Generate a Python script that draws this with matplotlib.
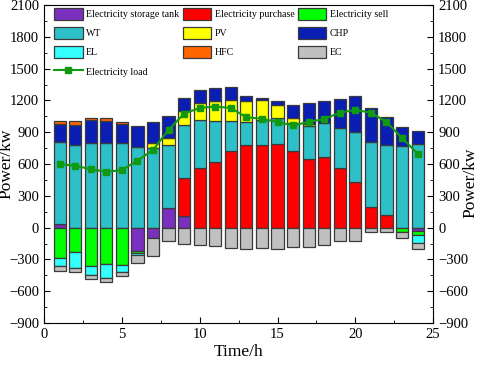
import numpy as np
import matplotlib.pyplot as plt
import matplotlib.patches as mpatches
from matplotlib.lines import Line2D
from matplotlib.ticker import MultipleLocator

plt.rcParams['font.family'] = ['Liberation Serif', 'DejaVu Serif']

hours = np.arange(1, 25)

# positive side (supply)
storage_out = [38, 0, 0, 0, 0, 0, 0, 190, 108, 0, 0, 0, 0, 0, 0, 0, 0, 0, 0, 0, 0, 0, 0, 0]
purchase = [0, 0, 0, 0, 0, 0, 0, 0, 365, 559, 616, 720, 781, 784, 787, 720, 644, 670, 559, 429, 197, 121, 0, 0]
wt = [768, 781, 797, 803, 803, 759, 752, 591, 498, 453, 387, 283, 216, 228, 248, 267, 311, 320, 384, 476, 609, 663, 768, 790]
pv = [0, 0, 0, 0, 0, 0, 45, 66, 127, 166, 190, 200, 196, 188, 120, 51, 25, 0, 0, 0, 0, 0, 0, 0]
chp = [174, 190, 222, 200, 177, 203, 200, 203, 130, 120, 121, 120, 51, 19, 38, 117, 198, 203, 269, 336, 324, 257, 178, 118]
hfc = [26, 35, 19, 35, 20, 0, 0, 0, 0, 0, 0, 0, 0, 0, 0, 0, 0, 0, 0, 0, 0, 0, 0, 0]

# negative side (consumption)
storage_in = [0, 0, 0, 0, 0, -222, -102, 0, 0, 0, 0, 0, 0, 0, 0, 0, 0, 0, 0, 0, 0, 0, 0, -30]
sell = [-290, -229, -359, -346, -352, -16, 0, 0, 0, 0, 0, 0, 0, 0, 0, 0, 0, 0, 0, 0, 0, 0, -44, -43]
el = [-70, -152, -89, -127, -64, -16, 0, 0, 0, 0, 0, 0, 0, 0, 0, 0, 0, 0, 0, 0, 0, 0, 0, -73]
ec = [-45, -38, -38, -41, -41, -79, -168, -130, -155, -168, -174, -193, -200, -193, -200, -187,
      -178, -168, -124, -130, -44, -40, -54, -57]

load = [600, 584, 552, 527, 543, 632, 733, 923, 1076, 1130, 1142, 1130, 1041, 1028, 997, 965,
        997, 1025, 1085, 1111, 1085, 997, 847, 698]

colors = {
    'storage': '#7B2FBE', 'purchase': '#FF0000', 'sell': '#00FF00',
    'wt': '#2EC0C8', 'pv': '#FFFF00', 'chp': '#0A1EB4',
    'el': '#33FFFF', 'hfc': '#FF6600', 'ec': '#C0C0C0', 'load': '#119911',
}
edge = '#3a3a3a'

fig = plt.figure(figsize=(4.84, 3.65), dpi=100)
ax = fig.add_axes([0.091, 0.115, 0.804, 0.871])

width = 0.78
bar_kw = dict(width=width, edgecolor=edge, linewidth=0.9, zorder=2)

bottom = np.zeros(24)
for vals, key in [(storage_out, 'storage'), (purchase, 'purchase'), (wt, 'wt'),
                  (pv, 'pv'), (chp, 'chp'), (hfc, 'hfc')]:
    v = np.array(vals, dtype=float)
    m = v > 0
    ax.bar(hours[m], v[m], bottom=bottom[m], color=colors[key], **bar_kw)
    bottom += v

bottom = np.zeros(24)
for vals, key in [(storage_in, 'storage'), (sell, 'sell'), (el, 'el'), (ec, 'ec')]:
    v = np.array(vals, dtype=float)
    m = v < 0
    ax.bar(hours[m], v[m], bottom=bottom[m], color=colors[key], **bar_kw)
    bottom += v

ax.plot(hours, load, color=colors['load'], lw=1.5, marker='s', ms=4.5, zorder=3)

ax.set_xlim(0, 25)
ax.set_ylim(-900, 2100)
ax.xaxis.set_major_locator(MultipleLocator(5))
ax.xaxis.set_minor_locator(MultipleLocator(2.5))
ax.yaxis.set_major_locator(MultipleLocator(300))
ax.yaxis.set_minor_locator(MultipleLocator(150))
ax.tick_params(which='both', direction='in', right=True, labelright=True, labelsize=10.5)
ax.tick_params(which='major', length=4)
ax.tick_params(which='minor', length=2.5)
ax.set_xlabel('Time/h', fontsize=12.5, labelpad=2)
ax.set_ylabel('Power/kw', fontsize=12.5)
ax.yaxis.set_label_coords(-0.075, 0.5)
fig.text(0.971, 0.5, 'Power/kw', rotation=90, fontsize=12.5, ha='center', va='center')

def patch(key, label):
    return mpatches.Patch(facecolor=colors[key], edgecolor=edge, linewidth=0.9, label=label)

handles = [
    patch('storage', 'Electricity storage tank'), patch('wt', 'WT'), patch('el', 'EL'),
    Line2D([0], [0], color=colors['load'], lw=1.5, marker='s', ms=4, label='Electricity load'),
    patch('purchase', 'Electricity purchase'), patch('pv', 'PV'), patch('hfc', 'HFC'),
    patch('sell', 'Electricity sell'), patch('chp', 'CHP'), patch('ec', 'EC'),
]
ax.legend(handles=handles, ncol=3, loc='upper left', bbox_to_anchor=(0.018, 1.0),
          frameon=False, fontsize=7.1, handlelength=2.9, handleheight=1.45,
          handletextpad=0.35, labelspacing=0.75, columnspacing=0.35,
          borderaxespad=-0.1)

fig.savefig('out.png', dpi=100)
